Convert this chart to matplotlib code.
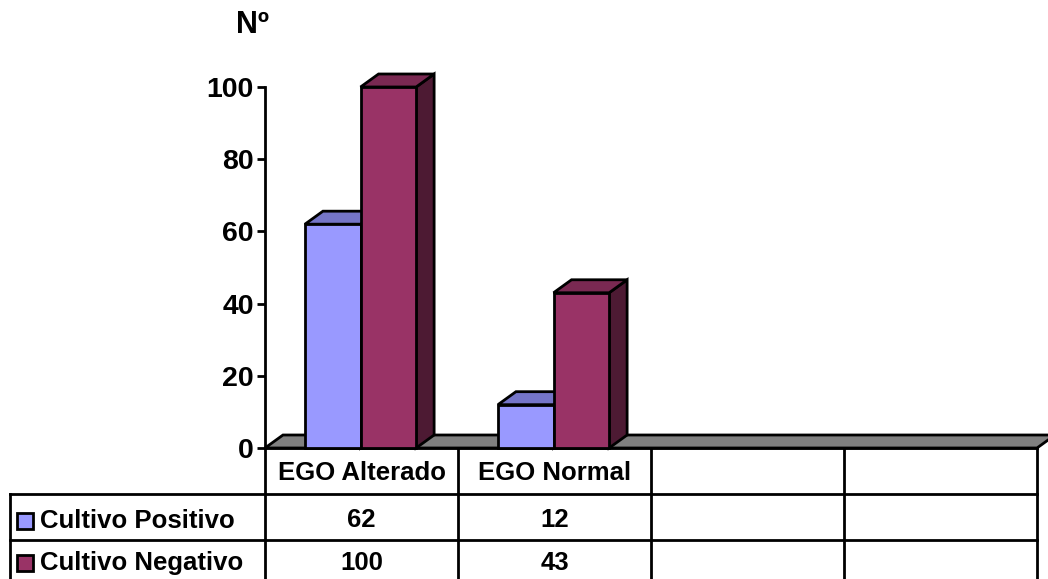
import matplotlib.pyplot as plt
from matplotlib.patches import Polygon, Rectangle

# dados
categorias = ["EGO Alterado", "EGO Normal"]
series = ["Cultivo Positivo", "Cultivo Negativo"]
positivo = [62, 12]
negativo = [100, 43]
colunas_vazias = 2
yticks = [0, 20, 40, 60, 80, 100]

plt.rcParams['font.family'] = ['Liberation Sans', 'DejaVu Sans']

W, H = 1048, 579
fig = plt.figure(figsize=(W / 100, H / 100), dpi=100)

# area do grafico (px)
x0, x1 = 265, 1037
y0, y100 = 448, 87
ncol = len(categorias) + colunas_vazias
colw = (x1 - x0) / ncol

ax = fig.add_axes([x0 / W, (H - y0) / H, (x1 - x0) / W, (y0 - y100) / H])
ax.set_xlim(0, ncol)
ax.set_ylim(0, 100)

# profundidade 3D em unidades de dados
dx = 18 / colw
dy = 13 / ((y0 - y100) / 100)

cores = [("#9999FF", "#7575C8", "#5A5A9E"),
         ("#993366", "#7A2952", "#4D1A33")]
lw = 2


def barra3d(x, w, h, frente, topo, lado, z):
    kw = dict(ec="black", lw=lw, clip_on=False, joinstyle="miter")
    ax.add_patch(Polygon([(x + w, 0), (x + w, h), (x + w + dx, h + dy), (x + w + dx, dy)],
                         fc=lado, zorder=z, **kw))
    ax.add_patch(Polygon([(x, h), (x + dx, h + dy), (x + w + dx, h + dy), (x + w, h)],
                         fc=topo, zorder=z, **kw))
    ax.add_patch(Rectangle((x, 0), w, h, fc=frente, zorder=z, **kw))


# piso cinza
ax.add_patch(Polygon([(0, 0), (dx, dy), (ncol + dx, dy), (ncol, 0)], fc="#808080",
                     ec="black", lw=lw, clip_on=False, zorder=1))

larg = 0.288
for i in range(len(categorias)):
    xi = i + 0.207
    for j, vals in enumerate([positivo, negativo]):
        barra3d(xi + j * larg, larg, vals[i], *cores[j], z=2 + j)

for s in ["top", "right", "bottom"]:
    ax.spines[s].set_visible(False)
ax.spines["left"].set_linewidth(lw)
ax.spines["left"].set_bounds(0, 100)
ax.set_xticks([])
ax.set_yticks(yticks)
ax.tick_params(axis="y", direction="out", length=6, width=lw, labelsize=20.5, pad=2)
for t in ax.get_yticklabels():
    t.set_fontweight("bold")
ax.patch.set_visible(False)

fig.text(253 / W, 1 - 25 / H, "Nº", ha="center", va="center", fontsize=22, fontweight="bold")

# tabela de dados
ov = fig.add_axes([0, 0, 1, 1], zorder=-1)
ov.set_xlim(0, W)
ov.set_ylim(H, 0)
ov.axis("off")

for y in [494, 540]:
    ov.plot([10, x1], [y, y], color="black", lw=lw)
ov.plot([x0, x1], [y0, y0], color="black", lw=lw)
ov.plot([10, 10], [494, H + 5], color="black", lw=lw)
for k in range(ncol + 1):
    xv = x0 + k * colw
    ov.plot([xv, xv], [y0, H + 5], color="black", lw=lw)

fs = 18.5
for i, cat in enumerate(categorias):
    cx = x0 + (i + 0.5) * colw
    ov.text(cx, 473, cat, ha="center", va="center", fontsize=fs, fontweight="bold")
    ov.text(cx, 520, str(positivo[i]), ha="center", va="center", fontsize=fs, fontweight="bold")
    ov.text(cx, 563, str(negativo[i]), ha="center", va="center", fontsize=fs, fontweight="bold")

for j, (nome, linha_y) in enumerate(zip(series, [521, 563])):
    ov.add_patch(Rectangle((17, linha_y - 8), 16, 16, fc=cores[j][0], ec="black", lw=lw))
    ov.text(40, linha_y, nome, ha="left", va="center", fontsize=fs, fontweight="bold")

fig.savefig("out.png", dpi=100)
